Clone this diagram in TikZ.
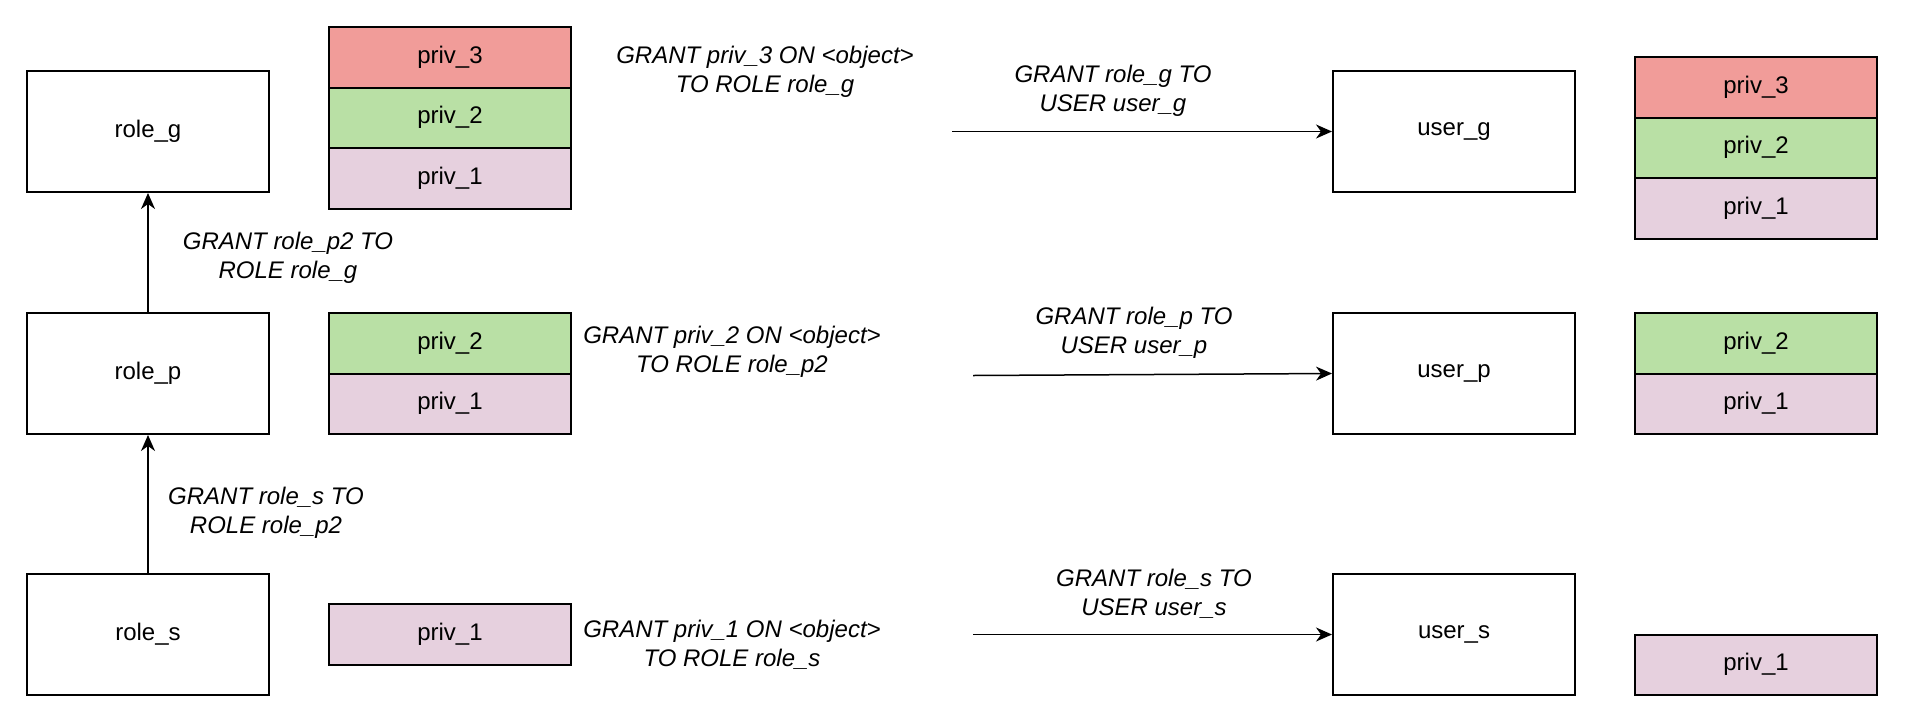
\documentclass[tikz,border=0pt]{standalone}
\usepackage{fontspec}
\setmainfont{Liberation Sans}
\usetikzlibrary{arrows.meta}
\definecolor{cred}{HTML}{F19C99}
\definecolor{cgreen}{HTML}{B9E0A5}
\definecolor{cpurp}{HTML}{E6D0DE}
\begin{document}
\begin{tikzpicture}[x=0.5pt,y=-0.5pt,
  box/.style={draw=black,line width=1pt,minimum width=121pt,minimum height=60.5pt,inner sep=0pt,font=\fontsize{12}{14.5}\selectfont},
  cell/.style={draw=black,line width=1pt,minimum width=121pt,minimum height=30.25pt,inner sep=0pt,font=\fontsize{12}{14.5}\selectfont},
  lbl/.style={align=center,inner sep=0pt,font=\fontsize{12}{14.5}\selectfont\itshape},
  arr/.style={line width=0.75pt,-{Stealth[length=8pt,width=7pt,inset=2.5pt]}}]
\useasboundingbox (0,0) rectangle (1906,724);
% roles
\node[box] (rg) at (148,131.5) {role\_g};
\node[box] (rp) at (148,373.5) {role\_p};
\node[box] (rs) at (148,634.5) {role\_s};
% left stacks
\node[cell,fill=cred]   (a3) at (450,57.25)  {priv\_3};
\node[cell,fill=cgreen] (a2) at (450,117.75) {priv\_2};
\node[cell,fill=cpurp]  (a1) at (450,178.25) {priv\_1};
\node[cell,fill=cgreen] (b2) at (450,343.25) {priv\_2};
\node[cell,fill=cpurp]  (b1) at (450,403.75) {priv\_1};
\node[cell,fill=cpurp]  (c1) at (450,634.5)  {priv\_1};
% users
\node[box] (ug) at (1454,131.5) {user\_g};
\node[box] (up) at (1454,373.5) {user\_p};
\node[box] (us) at (1454,634.5) {user\_s};
% right stacks
\node[cell,fill=cred]   (d3) at (1756,87.25)  {priv\_3};
\node[cell,fill=cgreen] (d2) at (1756,147.75) {priv\_2};
\node[cell,fill=cpurp]  (d1) at (1756,208.25) {priv\_1};
\node[cell,fill=cgreen] (e2) at (1756,343.25) {priv\_2};
\node[cell,fill=cpurp]  (e1) at (1756,403.75) {priv\_1};
\node[cell,fill=cpurp]  (f1) at (1756,664.75) {priv\_1};
% labels
\node[lbl] (l1) at (765,72) {GRANT priv\_3 ON <object>\\TO ROLE role\_g};
\node[lbl] (l2) at (732,352) {GRANT priv\_2 ON <object>\\TO ROLE role\_p2};
\node[lbl] (l3) at (732,645) {GRANT priv\_1 ON <object>\\TO ROLE role\_s};
\node[lbl] (l4) at (288,258) {GRANT role\_p2 TO\\ROLE role\_g};
\node[lbl] (l5) at (266,513) {GRANT role\_s TO\\ROLE role\_p2};
\node[lbl] (l6) at (1113,91) {GRANT role\_g TO\\USER user\_g};
\node[lbl] (l7) at (1134,333) {GRANT role\_p TO\\USER user\_p};
\node[lbl] (l8) at (1154,594) {GRANT role\_s TO\\USER user\_s};
% arrows
\draw[arr] (rs.north) -- (rp.south);
\draw[arr] (rp.north) -- (rg.south);
\coordinate (sg) at (952,131.5);
\coordinate (sp) at (973,375.5);
\coordinate (ss) at (973,634.5);
\draw[arr] (sg) -- (ug.west);
\draw[arr] (sp) -- (up.west);
\draw[arr] (ss) -- (us.west);
\end{tikzpicture}
\end{document}
